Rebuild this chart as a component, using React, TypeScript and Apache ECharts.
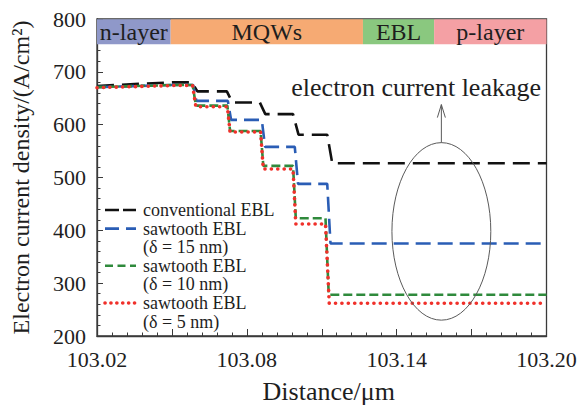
import React, { useEffect, useRef } from 'react';
import * as echarts from 'echarts';

// Step profiles of electron current density (A/cm²) along the device (µm)
const conventionalEBL: [number, number][] = [
  [103.02, 673], [103.035, 677], [103.05, 680], [103.058, 680],
  [103.0602, 663], [103.072, 663], [103.0742, 642], [103.0852, 642],
  [103.0874, 620], [103.0985, 620], [103.1007, 581], [103.1122, 581],
  [103.1142, 527], [103.2, 527],
];
const sawtooth15nm: [number, number][] = [
  [103.02, 671], [103.035, 673], [103.05, 675], [103.0585, 675],
  [103.0598, 645], [103.0724, 645], [103.0737, 609], [103.086, 609],
  [103.0873, 558], [103.0992, 558], [103.1005, 488], [103.1122, 488],
  [103.1135, 375], [103.2, 375],
];
const sawtooth10nm: [number, number][] = [
  [103.02, 671], [103.035, 673], [103.05, 675], [103.0583, 675],
  [103.0596, 636], [103.0722, 636], [103.0733, 588], [103.0855, 588],
  [103.0866, 522], [103.0985, 522], [103.0996, 423], [103.1115, 423],
  [103.1128, 278], [103.2, 278],
];
const sawtooth5nm: [number, number][] = [
  [103.02, 670], [103.035, 672], [103.05, 674], [103.0583, 674],
  [103.0596, 634], [103.0722, 634], [103.0733, 586], [103.0855, 586],
  [103.0866, 516], [103.0985, 516], [103.0996, 412], [103.1115, 412],
  [103.113, 262], [103.2, 262],
];

const seriesNames = [
  'conventional EBL',
  'sawtooth EBL\n(δ = 15 nm)',
  'sawtooth EBL\n(δ = 10 nm)',
  'sawtooth EBL\n(δ = 5 nm)',
];

// Device layers drawn as a band along the top of the plot
const layerNames = ['n-layer', 'MQWs', 'EBL', 'p-layer'];
const layerBounds = [103.02, 103.0495, 103.1265, 103.155, 103.2];
const layerColors = ['#8f98c9', '#f6aa73', '#8ac87f', '#f4a0a4'];

const distanceLabels = ['103.02', '103.08', '103.14', '103.20'];
const densityTicks = [200, 300, 400, 500, 600, 700, 800];

const FONT = 'Liberation Serif';
const AXIS = '#3a3a3a';
const TEXT = '#1e1e1e';

const styles = [
  { color: '#111111', width: 2.6, dash: [17, 8], legendDash: [14, 4], cap: 'butt' },
  { color: '#2a5db5', width: 2.6, dash: [15, 7], legendDash: [14, 7], cap: 'butt' },
  { color: '#2f8a3c', width: 2.6, dash: [9, 4], legendDash: [8, 4.5], cap: 'butt' },
  { color: '#f0302a', width: 3.6, dash: [0.1, 6.3], legendDash: [0.1, 5.8], cap: 'round' },
];

export default function App() {
  const ref = useRef<HTMLDivElement>(null);

  useEffect(() => {
    document.body.style.margin = '0';
    const chart = echarts.init(ref.current!, null, { renderer: 'svg' });
    const datasets = [conventionalEBL, sawtooth15nm, sawtooth10nm, sawtooth5nm];

    const series: any[] = datasets.map((data, i) => ({
      type: 'line',
      name: seriesNames[i],
      data,
      symbol: 'none',
      silent: true,
      z: 3 + i,
      lineStyle: {
        color: styles[i].color,
        width: styles[i].width,
        type: styles[i].dash,
        cap: styles[i].cap,
      },
    }));

    series[0].markArea = {
      silent: true,
      label: {
        show: true,
        position: 'inside',
        fontSize: 24,
        fontFamily: FONT,
        color: TEXT,
      },
      data: layerNames.map((name, i) => [
        { name, xAxis: layerBounds[i], yAxis: 752, itemStyle: { color: layerColors[i], opacity: 1 } },
        { xAxis: layerBounds[i + 1], yAxis: 799.4 },
      ]),
    };

    chart.setOption({
      animation: false,
      backgroundColor: '#ffffff',
      textStyle: { fontFamily: FONT },
      grid: {
        left: 97,
        right: 34.5,
        top: 19,
        bottom: 65,
        show: true,
        borderColor: AXIS,
        borderWidth: 1.3,
        backgroundColor: 'transparent',
      },
      xAxis: {
        type: 'value',
        min: 103.02,
        max: 103.2,
        interval: 0.03,
        name: 'Distance/μm',
        nameLocation: 'middle',
        nameGap: 42,
        nameTextStyle: { fontSize: 26, fontFamily: FONT, color: TEXT, padding: [0, 0, 0, 14] },
        axisLine: { show: true, onZero: false, lineStyle: { color: AXIS, width: 1.3 } },
        axisTick: { show: true, inside: true, length: 7, lineStyle: { color: AXIS } },
        minorTick: { show: true, splitNumber: 5, length: 3.5, lineStyle: { color: AXIS } },
        splitLine: { show: false },
        axisLabel: {
          fontSize: 22,
          fontFamily: FONT,
          color: TEXT,
          margin: 12,
          formatter: (v: number) => {
            const s = v.toFixed(2);
            return distanceLabels.includes(s) ? s : '';
          },
        },
      },
      yAxis: {
        type: 'value',
        min: densityTicks[0],
        max: densityTicks[densityTicks.length - 1],
        interval: 100,
        name: 'Electron current density/(A/cm²)',
        nameLocation: 'middle',
        nameGap: 64,
        nameTextStyle: { fontSize: 24, fontFamily: FONT, color: TEXT },
        axisLine: { show: true, lineStyle: { color: AXIS, width: 1.3 } },
        axisTick: { show: true, inside: true, length: 6, lineStyle: { color: AXIS } },
        minorTick: { show: true, splitNumber: 5, length: 3.5, lineStyle: { color: AXIS } },
        splitLine: { show: false },
        axisLabel: { fontSize: 22, fontFamily: FONT, color: TEXT, margin: 11 },
      },
      series,
    });

    // Annotation (ellipse + arrow + caption) and the legend, positioned in data space
    const px = (x: number, y: number) =>
      chart.convertToPixel({ gridIndex: 0 }, [x, y]) as number[];

    const c = px(103.1579, 398);
    const edge = px(103.1579 + 0.0198, 398 + 168);
    const rx = edge[0] - c[0];
    const ry = c[1] - edge[1];
    const tip = px(103.1579, 638);
    const caption = px(103.1478, 671);

    const graphic: any[] = [
      {
        type: 'ellipse',
        silent: true,
        z: 20,
        shape: { cx: c[0], cy: c[1], rx, ry },
        style: { fill: 'none', stroke: '#5a5a5a', lineWidth: 1 },
      },
      {
        type: 'line',
        silent: true,
        z: 20,
        shape: { x1: c[0], y1: c[1] - ry, x2: tip[0], y2: tip[1] },
        style: { stroke: '#5a5a5a', lineWidth: 1 },
      },
      {
        type: 'polyline',
        silent: true,
        z: 20,
        shape: { points: [[tip[0] - 4, tip[1] + 13], [tip[0], tip[1]], [tip[0] + 4, tip[1] + 13]] },
        style: { fill: 'none', stroke: '#5a5a5a', lineWidth: 1 },
      },
      {
        type: 'text',
        silent: true,
        z: 20,
        x: caption[0],
        y: caption[1],
        style: {
          text: 'electron current leakage',
          fontSize: 26,
          fontFamily: FONT,
          fill: TEXT,
          align: 'center',
          verticalAlign: 'middle',
        },
      },
    ];

    // Legend: line sample beside the first text line of each entry
    const lineH = 18.6;
    let yc = 210;
    seriesNames.forEach((name, i) => {
      const s = styles[i];
      graphic.push({
        type: 'line',
        silent: true,
        z: 25,
        shape: { x1: 105, y1: yc, x2: 136, y2: yc },
        style: { stroke: s.color, lineWidth: s.width, lineDash: s.legendDash, lineCap: s.cap },
      });
      name.split('\n').forEach((line, k) => {
        graphic.push({
          type: 'text',
          silent: true,
          z: 25,
          x: 143,
          y: yc + k * lineH,
          style: {
            text: line,
            fontSize: 18,
            fontFamily: FONT,
            fill: TEXT,
            align: 'left',
            verticalAlign: 'middle',
          },
        });
      });
      yc += lineH * name.split('\n').length;
    });

    chart.setOption({ graphic });

    return () => chart.dispose();
  }, []);

  return (
    <div
      ref={ref}
      style={{ position: 'fixed', left: 0, top: 0, width: 581, height: 409, background: '#fff' }}
    />
  );
}
